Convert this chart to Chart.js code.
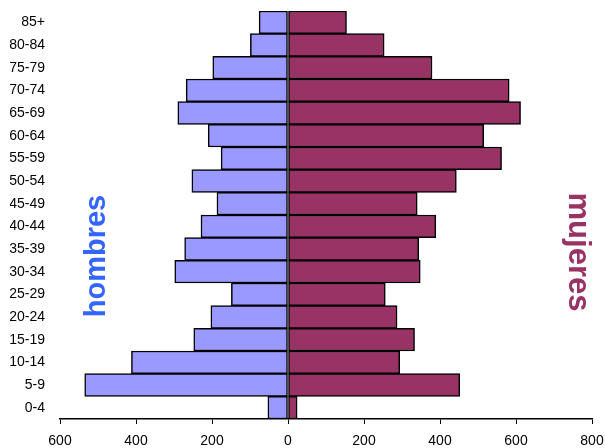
<!DOCTYPE html>
<html>
<head>
<meta charset="utf-8">
<script src="https://cdn.jsdelivr.net/npm/chart.js@4/dist/chart.umd.min.js"></script>
<style>
html,body{margin:0;padding:0;background:#fff;}
#wrap{width:605px;height:448px;}
</style>
</head>
<body>
<div id="wrap"><canvas id="c" width="605" height="448"></canvas></div>
<script>
const categories = ["0-4","5-9","10-14","15-19","20-24","25-29","30-34","35-39","40-44","45-49","50-54","55-59","60-64","65-69","70-74","75-79","80-84","85+"];
const hombres = [53,535,412,248,203,149,298,272,229,187,253,176,210,290,268,198,99,76];
const mujeres = [24,452,294,333,287,256,348,344,389,340,443,562,515,612,582,379,253,154];
const xTicks = [-600,-400,-200,0,200,400,600,800];

const sideLabels = {
  id: 'sideLabels',
  afterDraw(chart) {
    const ctx = chart.ctx;
    ctx.save();
    ctx.textAlign = 'center';
    ctx.textBaseline = 'alphabetic';
    // hombres
    ctx.save();
    ctx.font = 'bold 29px "Liberation Sans", Arial, sans-serif';
    ctx.translate(105, 256);
    ctx.rotate(-Math.PI/2);
    ctx.fillStyle = '#3366FF';
    ctx.fillText('hombres', 0, 0);
    ctx.restore();
    // mujeres
    ctx.save();
    ctx.font = 'bold 31px "Liberation Sans", Arial, sans-serif';
    ctx.translate(569, 252);
    ctx.rotate(Math.PI/2);
    ctx.fillStyle = '#993366';
    ctx.fillText('mujeres', 0, 0);
    ctx.restore();
    ctx.restore();
  }
};

new Chart(document.getElementById('c'), {
  type: 'bar',
  data: {
    labels: categories,
    datasets: [
      { label: 'hombres', data: hombres.map(v => -v), backgroundColor: '#9999FF', borderColor: '#000000', borderWidth: 1.5, borderSkipped: false },
      { label: 'mujeres', data: mujeres, backgroundColor: '#993366', borderColor: '#000000', borderWidth: 1.5, borderSkipped: false }
    ]
  },
  options: {
    indexAxis: 'y',
    responsive: false,
    animation: false,
    devicePixelRatio: 1,
    layout: { padding: { left: 10, right: 13, top: 11, bottom: 0 } },
    datasets: { bar: { barPercentage: 1, categoryPercentage: 1 } },
    plugins: { legend: { display: false }, tooltip: { enabled: false } },
    scales: {
      x: {
        stacked: true,
        min: -600, max: 800,
        afterBuildTicks: (axis) => { axis.ticks = xTicks.map(v => ({ value: v })); },
        afterFit: (axis) => { axis.height = 29; axis.paddingLeft = 0; axis.paddingRight = 0; },
        ticks: {
          callback: (v) => Math.abs(v),
          color: '#000',
          font: { family: '"Liberation Sans", Arial, sans-serif', size: 14 },
          padding: 9,
          maxRotation: 0
        },
        grid: { display: true, drawOnChartArea: false, drawTicks: true, tickLength: 5, color: '#000', lineWidth: 1 },
        border: { display: true, color: '#000', width: 1.5 }
      },
      y: {
        stacked: true,
        reverse: true,
        afterFit: (axis) => { axis.width = 50; axis.paddingTop = 0; axis.paddingBottom = 0; },
        ticks: {
          color: '#000',
          font: { family: '"Liberation Sans", Arial, sans-serif', size: 14 },
          padding: 15,
          autoSkip: false
        },
        grid: { display: false, drawTicks: false },
        border: { display: false }
      }
    }
  },
  plugins: [sideLabels]
});
</script>
</body>
</html>
